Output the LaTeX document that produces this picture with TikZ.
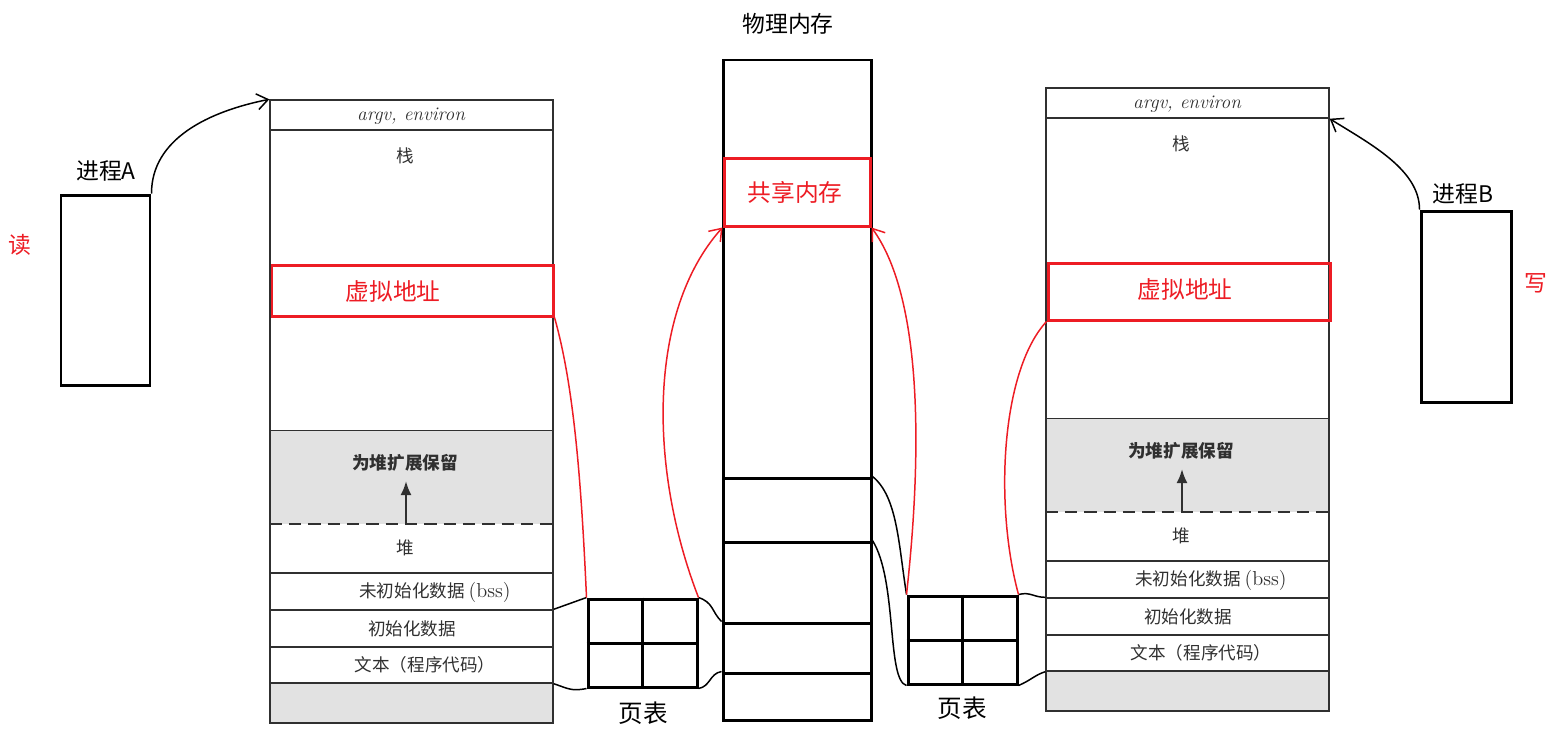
\documentclass[tikz,border=0pt]{standalone}
\usepackage{fontspec}
\newfontfamily\cjk{Noto Sans CJK SC}
\usetikzlibrary{arrows.meta,fit}
\definecolor{pen}{HTML}{ED1C24}
\definecolor{scan}{HTML}{303030}
\definecolor{shade}{HTML}{E2E2E2}

\begin{document}
\begin{tikzpicture}[x=0.02cm, y=-0.02cm,
  box/.style={draw=black, line width=1.7pt, inner sep=0pt},
  seg/.style={draw=scan, line width=0.8pt, inner sep=0pt},
  hot/.style={draw=pen, line width=1.7pt, inner sep=0pt},
  hottext/.style={inner sep=0pt, text=pen, font=\cjk\fontsize{13.5}{15}\selectfont},
  lbl/.style={inner sep=0pt, text=scan, font=\cjk\fontsize{10}{12}\selectfont},
  hand/.style={inner sep=0pt, font=\cjk\fontsize{13}{15}\selectfont},
  wire/.style={draw=black, line width=0.85pt},
  redwire/.style={draw=pen, line width=0.85pt},
  barb/.style={-{Straight Barb[length=2.2mm,width=3.2mm]}},
  heaparrow/.style={-{Latex[length=2.8mm,width=2.2mm]}, draw=scan, line width=1.3pt}]
\useasboundingbox (0,0) rectangle (1551,731);

% ---------------- the two process address spaces
\foreach \s/\ox/\oy in {A/270/100, B/1046/88}{
  \begin{scope}[shift={(\ox,\oy)}]
    \node[seg, fit={(0,0)(283,30)}] (arg\s) {};
    \node[lbl, font=\rmfamily\itshape\fontsize{11}{13}\selectfont] (argT\s) at (141,16) {argv, environ};
    \node[lbl] (stk\s) at (135,56) {栈};
    \node[fit={(0,331)(283,424)}, inner sep=0pt, fill=shade] (res\s) {};
    \draw[seg] (res\s.north west) -- (res\s.north east);
    \draw[seg, dashed, dash pattern=on 7pt off 4pt, line width=1.1pt] (res\s.south west) -- (res\s.south east);
    \node[lbl, font=\cjk\bfseries\fontsize{10}{12}\selectfont] (reserve\s) at (135,363) {为堆扩展保留};
    \coordinate (tip\s) at (136,381);
    \draw[heaparrow] (res\s.south -| tip\s) -- (tip\s);
    \node[fit={(0,424)(283,473)}, inner sep=0pt] (heap\s) {};
    \node[lbl] (heapT\s) at (135,448) {堆};
    \node[seg, fit={(0,473)(283,510)}] (bss\s) {};
    \node[lbl] (bssT\s) at (165,492) {未初始化数据 {\rmfamily\fontsize{11.5}{13}\selectfont(bss)}};
    \node[seg, fit={(0,510)(283,547)}] (init\s) {};
    \node[lbl] (initT\s) at (142,529) {初始化数据};
    \node[seg, fit={(0,547)(283,583)}] (text\s) {};
    \node[lbl] (textT\s) at (155,565) {文本（程序代码）};
    \node[seg, fill=shade, fit={(0,583)(283,623)}] (low\s) {};
    \node[seg, fit={(0,0)(283,623)}] (lay\s) {};
  \end{scope}
}
\node[hot, fit={(272,265)(553,316)}] (vaA) {};
\node[hottext] (vaAT) at (393,291) {虚拟地址};
\node[hot, fit={(1048,263)(1330,320)}] (vaB) {};
\node[hottext] (vaBT) at (1185,289) {虚拟地址};

% ---------------- processes
\node[box, fit={(61,195)(150,385)}] (procA) {};
\node[hand, anchor=south] (nameA) at (106,182) {进程A};
\node[hand, text=pen] (readA) at (20,245) {读};
\node[box, fit={(1421,211)(1511,402)}] (procB) {};
\node[hand, anchor=south] (nameB) at (1463,205) {进程B};
\node[hand, text=pen] (writeB) at (1536,283) {写};

% ---------------- physical memory
\node[hand] (physname) at (788,24) {物理内存};
\node[box, fit={(723,60)(871,720)}] (phys) {};
\node[box, fit={(723,478)(871,542)}] (frameA) {};
\node[box, fit={(723,542)(871,623)}] (frameB) {};
\node[box, fit={(723,623)(871,673)}] (frameC) {};
\node[box, fit={(723,673)(871,720)}] (frameD) {};
\node[hot, fit={(724,158)(870,226)}] (shared) {};
\node[hottext] (sharedT) at (795,192) {共享内存};

% ---------------- page tables
\node[box, fit={(588,599)(697,687)}] (pgA) {};
\draw[box] (pgA.north) -- (pgA.south);
\draw[box] (pgA.west) -- (pgA.east);
\node[hand, font=\cjk\fontsize{14}{16}\selectfont] (pgAname) at (643,713) {页表};
\node[box, fit={(908,596)(1017,684)}] (pgB) {};
\draw[box] (pgB.north) -- (pgB.south);
\draw[box] (pgB.west) -- (pgB.east);
\node[hand, font=\cjk\fontsize{14}{16}\selectfont] (pgBname) at (962,708) {页表};

% ---------------- black links
\draw[wire, barb] (procA.north east) .. controls +(0,-55) and +(-60,12) .. (argA.north west);
\draw[wire, barb] (procB.north west) .. controls +(0,-40) and +(40,25) .. (argB.south east);
\draw[wire] (initA.north east) -- (pgA.north west);
\draw[wire] (textA.south east) .. controls +(15,5) and +(-15,3) .. (pgA.south west);
\draw[wire] (pgA.north east) .. controls +(15,5) and +(-10,-10) .. (frameC.north west);
\draw[wire] (pgA.south east) .. controls +(12,-2) and +(-12,2) .. (frameD.north west);
\draw[wire] (frameA.north east) .. controls +(25,20) and +(-8,-50) .. (pgB.north west);
\draw[wire] (frameB.north east) .. controls +(25,40) and +(-20,-5) .. (pgB.south west);
\draw[wire] (pgB.north east) .. controls +(12,-3) and +(-12,0) .. (initB.north west);
\draw[wire] (pgB.south east) .. controls +(12,-5) and +(-10,3) .. (textB.south west);

% ---------------- red links
\draw[redwire] (vaA.south east) .. controls +(20,70) and +(-5,-110) .. (pgA.north west);
\draw[redwire, barb] (pgA.north east) .. controls +(-50,-129) and +(-75,84) .. (shared.south west);
\draw[redwire, barb] (pgB.north west) .. controls +(14,-126) and +(54,74) .. (shared.south east);
\draw[redwire] (vaB.south west) .. controls +(-46,50) and +(-24,-88) .. (pgB.north east);
\end{tikzpicture}
\end{document}
